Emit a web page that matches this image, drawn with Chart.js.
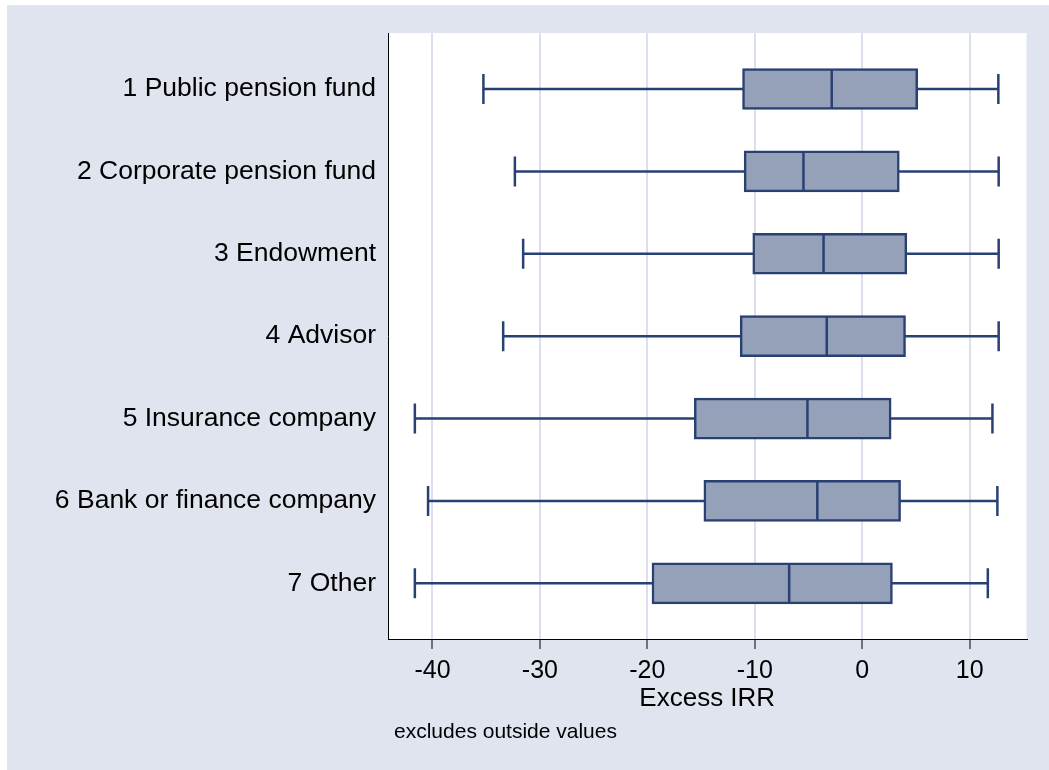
<!DOCTYPE html>
<html>
<head>
<meta charset="utf-8">
<script src="https://cdn.jsdelivr.net/npm/chart.js@4/dist/chart.umd.min.js"></script>
<style>
  html, body { margin: 0; padding: 0; background: #E0E4EF; overflow: hidden; }
  #wrap { width: 1049px; height: 770px; }
  canvas { display: block; }
</style>
</head>
<body>
<div id="wrap"><canvas id="c" width="1049" height="770"></canvas></div>
<script>
// ---- data ----
const categories = [
  '1 Public pension fund',
  '2 Corporate pension fund',
  '3 Endowment',
  '4 Advisor',
  '5 Insurance company',
  '6 Bank or finance company',
  '7 Other'
];
const whiskerLow  = [-35.26, -32.33, -31.56, -33.42, -41.64, -40.41, -41.64];
const q1          = [-11.14, -10.99, -10.19, -11.36, -15.63, -14.74, -19.57];
const median      = [ -2.84,  -5.47,  -3.60,  -3.30,  -5.10,  -4.18,  -6.80];
const q3          = [  5.16,   3.45,   4.15,   4.03,   2.69,   3.57,   2.81];
const whiskerHigh = [ 12.67,  12.70,  12.70,  12.70,  12.12,  12.58,  11.69];
const xTicks = [-40, -30, -20, -10, 0, 10];
const xTitle = 'Excess IRR';
const noteText = 'excludes outside values';

// ---- styles ----
const BG = '#E0E4EF';
const GRID = '#DCE0EC';
const FILL = '#95A0B9';
const LINE = '#294072';
const FONT = "'Liberation Sans', Arial, Helvetica, sans-serif";

const pos = categories.map((_, i) => i + 1);

const boxData = pos.map((p, i) => ({ y: p, x: [q1[i], q3[i]] }));
const whiskerData = [];
pos.forEach((p, i) => {
  whiskerData.push({ x: whiskerLow[i], y: p });
  whiskerData.push({ x: whiskerHigh[i], y: p });
  whiskerData.push({ x: null, y: null });
});
const capData = [];
pos.forEach((p, i) => {
  capData.push({ x: whiskerLow[i], y: p });
  capData.push({ x: whiskerHigh[i], y: p });
});
const medianData = pos.map((p, i) => ({ x: median[i], y: p }));

const bgPlugin = {
  id: 'bg',
  beforeDraw(chart) {
    const { ctx, chartArea } = chart;
    ctx.save();
    ctx.fillStyle = '#ffffff';
    ctx.fillRect(0, 0, chart.width, chart.height);
    ctx.fillStyle = BG;
    ctx.fillRect(7, 5, chart.width - 7, chart.height - 5);
    ctx.fillStyle = '#ffffff';
    ctx.fillRect(chartArea.left, chartArea.top, chartArea.right - chartArea.left, chartArea.bottom - chartArea.top);
    ctx.restore();
  },
  afterDraw(chart) {
    const { ctx, chartArea } = chart;
    ctx.save();
    ctx.fillStyle = '#000';
    ctx.font = '21px ' + FONT;
    ctx.textBaseline = 'middle';
    ctx.textAlign = 'left';
    ctx.fillText(noteText, chartArea.left + 6, 732);
    ctx.restore();
  }
};

new Chart(document.getElementById('c'), {
  type: 'bar',
  data: {
    datasets: [
      {
        type: 'scatter',
        data: medianData,
        pointStyle: 'line',
        rotation: 90,
        radius: 20,
        hoverRadius: 20,
        borderColor: LINE,
        borderWidth: 2.5,
        order: 0
      },
      {
        type: 'bar',
        data: boxData,
        indexAxis: 'y',
        backgroundColor: FILL,
        borderColor: LINE,
        borderWidth: 2.5,
        borderSkipped: false,
        barThickness: 41,
        order: 1
      },
      {
        type: 'line',
        data: whiskerData,
        indexAxis: 'y',
        borderColor: LINE,
        borderWidth: 2.5,
        pointRadius: 0,
        spanGaps: false,
        fill: false,
        order: 2
      },
      {
        type: 'scatter',
        data: capData,
        pointStyle: 'line',
        rotation: 90,
        radius: 15,
        hoverRadius: 15,
        borderColor: LINE,
        borderWidth: 2.5,
        order: 2
      }
    ]
  },
  options: {
    indexAxis: 'y',
    responsive: false,
    animation: false,
    devicePixelRatio: 1,
    layout: { padding: { top: 33, right: 12, bottom: 50, left: 0 } },
    plugins: {
      legend: { display: false },
      tooltip: { enabled: false }
    },
    scales: {
      x: {
        type: 'linear',
        position: 'bottom',
        min: -44.14,
        max: 15.29,
        offset: false,
        afterBuildTicks(scale) { scale.ticks = xTicks.map(v => ({ value: v })); },
        afterFit(scale) { scale.height = 81; scale.paddingLeft = 0; scale.paddingRight = 0; },
        ticks: {
          padding: 7,
          color: '#000',
          font: { family: FONT, size: 25 },
          maxRotation: 0,
          callback: (v) => String(v)
        },
        grid: {
          display: true,
          drawOnChartArea: true,
          drawTicks: true,
          offset: false,
          color: GRID,
          lineWidth: 2,
          tickLength: 10,
          tickColor: '#000',
          tickWidth: 1
        },
        border: { display: true, color: '#000', width: 1 },
        title: {
          display: true,
          text: xTitle,
          color: '#000',
          font: { family: FONT, size: 26 },
          padding: { top: 0, bottom: 6 }
        }
      },
      y: {
        type: 'linear',
        position: 'left',
        reverse: true,
        min: 0.32,
        max: 7.676,
        offset: false,
        afterBuildTicks(scale) { scale.ticks = pos.map(v => ({ value: v })); },
        afterFit(scale) { scale.width = 388; scale.paddingTop = 0; scale.paddingBottom = 0; },
        ticks: {
          padding: 12,
          color: '#000',
          font: { family: FONT, size: 26.5 },
          callback: (v) => categories[v - 1]
        },
        grid: { display: false, drawTicks: false, offset: false },
        border: { display: true, color: '#000', width: 1 }
      }
    }
  },
  plugins: [bgPlugin]
});
</script>
</body>
</html>
